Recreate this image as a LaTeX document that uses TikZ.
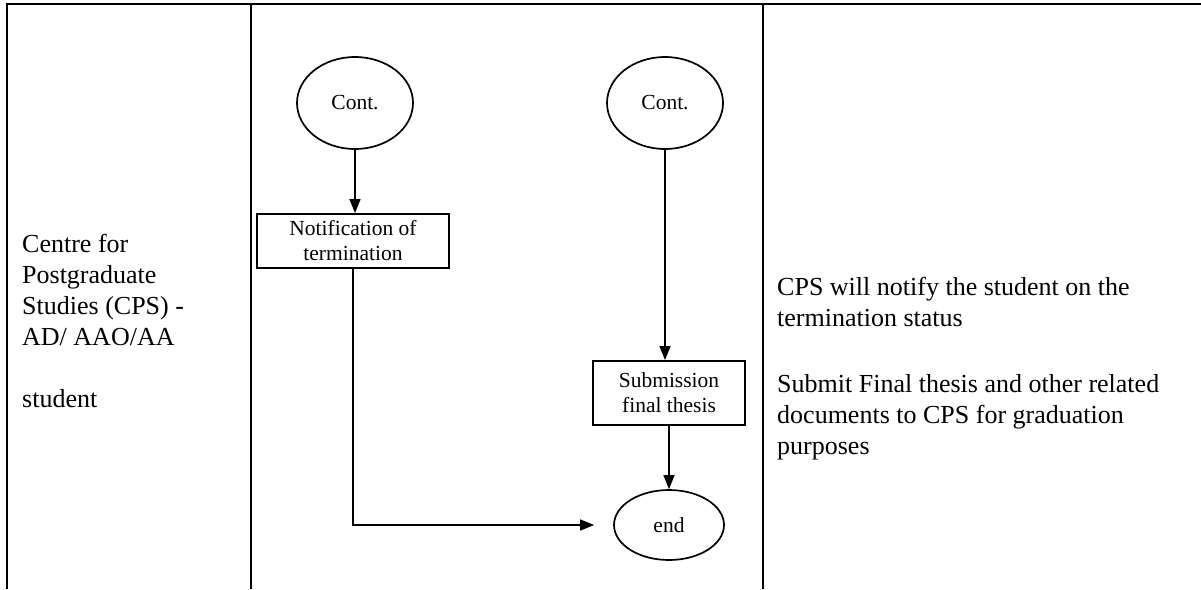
\documentclass[tikz,border=0pt]{standalone}
\usepackage{fontspec}
\setmainfont{Liberation Serif}
\usetikzlibrary{shapes.geometric,arrows.meta}
\begin{document}
\begin{tikzpicture}[x=1pt,y=-1pt,
  frame/.style={line width=1.5pt},
  oval/.style={ellipse,draw,line width=1.7pt,inner sep=0pt,font=\fontsize{21.5}{25}\selectfont},
  proc/.style={rectangle,draw,line width=1.9pt,inner sep=0pt,align=center,font=\fontsize{21.5}{25}\selectfont},
  flow/.style={line width=1.4pt,-{Triangle[length=14pt,width=11pt]}},
  lab/.style={inner sep=0pt,anchor=north west,align=left,font=\fontsize{26}{31}\selectfont}]
\useasboundingbox (0,0) rectangle (1201,589);
% table frame
\coordinate (bl) at (7,589);
\coordinate (tl) at (7,4);
\coordinate (tr) at (1201,4);
\coordinate (d1t) at (251,4);
\coordinate (d1b) at (251,589);
\coordinate (d2t) at (763,4);
\coordinate (d2b) at (763,589);
\draw[frame] (bl) -- (tl) -- (tr);
\draw[frame] (d1t) -- (d1b);
\draw[frame] (d2t) -- (d2b);
% flow nodes
\node[oval,minimum width=116pt,minimum height=92pt] (c1) at (355,103) {Cont.};
\node[oval,minimum width=116pt,minimum height=92pt] (c2) at (665,103) {Cont.};
\node[proc,minimum width=192pt,minimum height=54pt] (n1) at (353,241) {Notification of\\termination};
\node[proc,minimum width=152pt,minimum height=64pt] (s1) at (669,393) {Submission\\final thesis};
\node[oval,minimum width=110pt,minimum height=70pt] (e1) at (669,525) {end};
\coordinate (gap) at ([xshift=-19pt]e1.west);
\draw[flow] (c1.south) -- (c1.south |- n1.north);
\draw[flow] (c2.south) -- (c2.south |- s1.north);
\draw[flow] (s1.south) -- (e1.north);
\draw[flow] (n1.south) |- (gap);
% texts
\node[lab] (role) at (22,234) {Centre for\\Postgraduate\\Studies (CPS) -\\AD/ AAO/AA\\[31pt]student};
\node[lab] (t1) at (777,277) {CPS will notify the student on the\\termination status};
\node[lab] (t2) at (777,374) {Submit Final thesis and other related\\documents to CPS for graduation\\purposes};
\end{tikzpicture}
\end{document}
